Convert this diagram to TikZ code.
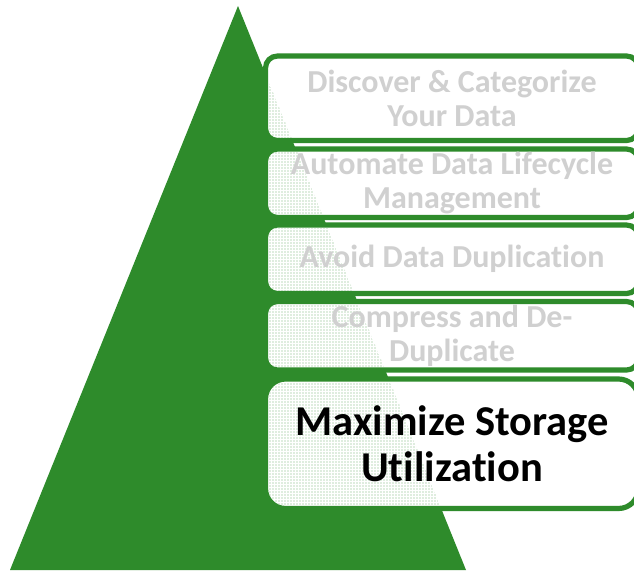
\documentclass[tikz,border=0pt]{standalone}
\usepackage{fontspec}
\setmainfont{Carlito}[Ligatures=NoCommon]
\usetikzlibrary{patterns.meta}
\definecolor{leaf}{RGB}{46,139,43}
\definecolor{mutedtext}{RGB}{208,208,208}
\tikzset{
  x=1pt,y=-1pt,
  framebox/.style={draw=leaf,line width=5.2pt,fill=white,anchor=north west,inner sep=0pt,outer sep=0pt,minimum width=373pt},
  smallbox/.style={framebox,rounded corners=12pt},
  bigbox/.style={framebox,rounded corners=20pt},
  dotfill/.style={pattern={Dots[distance=3pt,radius=0.62pt]},pattern color=leaf!65},
  mutedlabel/.style={align=center,text=mutedtext,font=\fontsize{32}{34}\bfseries\selectfont,inner sep=0pt},
  mainlabel/.style={align=center,text=black,font=\fontsize{42.5}{46}\bfseries\selectfont,inner sep=0pt}
}
\newcommand{\dotsin}[2]{\fill[dotfill,rounded corners=#2] ([shift={(2.6,2.6)}]#1.north west) rectangle ([shift={(-2.6,-2.6)}]#1.south east);}
\begin{document}
\begin{tikzpicture}
\useasboundingbox (0,0) rectangle (634,570);
\clip (0,0) rectangle (634,570);
\fill[white] (0,0) rectangle (634,570);
\fill[leaf] (238,6) -- (466,570) -- (10,570) -- cycle;
\node[smallbox,minimum height=84.5pt] (discover) at (265.5,56) {};
\node[smallbox,minimum height=68.5pt] (automate) at (265.5,149) {};
\node[smallbox,minimum height=68.5pt] (avoid) at (265.5,225) {};
\node[smallbox,minimum height=68.5pt] (compress) at (265.5,301.5) {};
\node[bigbox,minimum height=129.5pt] (maximize) at (265.5,379) {};
\begin{scope}
\clip (238,6) -- (466,570) -- (10,570) -- cycle;
\dotsin{discover}{9.5pt}
\dotsin{automate}{9.5pt}
\dotsin{avoid}{9.5pt}
\dotsin{compress}{9.5pt}
\dotsin{maximize}{17.5pt}
\end{scope}
\node[mutedlabel] (t1) at (discover.center) {Discover \& Categorize\\Your Data};
\node[mutedlabel] (t2) at (automate.center) {Automate Data Lifecycle\\Management};
\node[mutedlabel] (t3) at (avoid.center) {Avoid Data Duplication};
\node[mutedlabel] (t4) at (compress.center) {Compress and De-\\Duplicate};
\node[mainlabel] (t5) at (maximize.center) {Maximize Storage\\Utilization};
\end{tikzpicture}
\end{document}
